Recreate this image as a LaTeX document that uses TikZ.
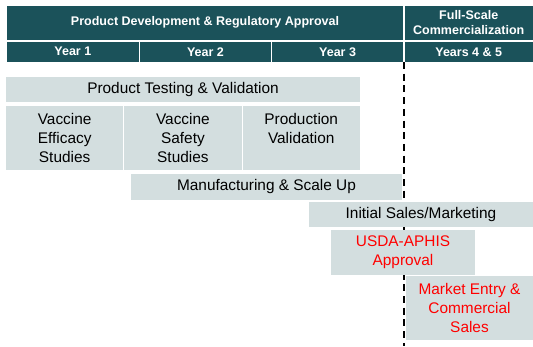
\documentclass[tikz,border=0pt]{standalone}
\usepackage{fontspec}
\setmainfont{Liberation Sans}
\definecolor{hdr}{RGB}{27,82,90}
\definecolor{lite}{RGB}{211,222,223}
\definecolor{redtxt}{RGB}{255,0,0}
\begin{document}
\begin{tikzpicture}[x=1pt,y=-1pt,
  hcell/.style={fill=hdr, text=white, font=\fontsize{12.5}{14.8}\selectfont\bfseries,
    anchor=north west, inner sep=0pt, outer sep=0pt, align=center},
  bar/.style={fill=lite, text=black, font=\fontsize{15.4}{18.6}\selectfont,
    anchor=north west, inner sep=0pt, outer sep=0pt, align=center},
  redlabel/.style={text=redtxt},
  milestone/.style={line width=2pt, dash pattern=on 7pt off 4.7pt}]
\useasboundingbox (0,0) rectangle (533,346);
% milestone line (behind the bars)
\coordinate (dtop) at (403.7,62);
\coordinate (dbot) at (403.7,346);
\draw[milestone] (dtop) -- (dbot);
% header
\node[hcell, minimum width=396pt, minimum height=33.5pt] (pd) at (7,6) {Product Development \& Regulatory Approval};
\node[hcell, minimum width=128.5pt, minimum height=33.5pt] (fs) at (404.5,6) {Full-Scale\\Commercialization};
\node[hcell, minimum width=131.7pt, minimum height=20.5pt] (y1) at (7,41.5) {Year 1};
\node[hcell, minimum width=131.5pt, minimum height=20.5pt] (y2) at (139.7,41.5) {Year 2};
\node[hcell, minimum width=130.8pt, minimum height=20.5pt] (y3) at (272.2,41.5) {Year 3};
\node[hcell, minimum width=128.5pt, minimum height=20.5pt] (y45) at (404.5,41.5) {Years 4 \& 5};
% bars
\node[bar, minimum width=354pt, minimum height=24.4pt] (ptv) at (6,77.3) {Product Testing \& Validation};
\node[bar, minimum width=117.3pt, minimum height=64pt] (ves) at (6,106) {Vaccine\\Efficacy\\Studies};
\node[bar, minimum width=117.2pt, minimum height=64pt] (vss) at (124.3,106) {Vaccine\\Safety\\Studies};
\node[bar, minimum width=117.5pt, minimum height=64pt] (pv) at (242.5,106) {Production\\Validation\\\mbox{}};
\node[bar, minimum width=271pt, minimum height=26pt] (msu) at (131,174) {Manufacturing \& Scale Up};
\node[bar, minimum width=224pt, minimum height=24.5pt] (ism) at (309,202) {Initial Sales/Marketing};
\node[bar, redlabel, minimum width=144pt, minimum height=45pt] (usda) at (331,230) {USDA-APHIS\\Approval};
\node[bar, redlabel, minimum width=127pt, minimum height=64pt] (mecs) at (406,276) {Market Entry \&\\Commercial\\Sales};
\end{tikzpicture}
\end{document}
